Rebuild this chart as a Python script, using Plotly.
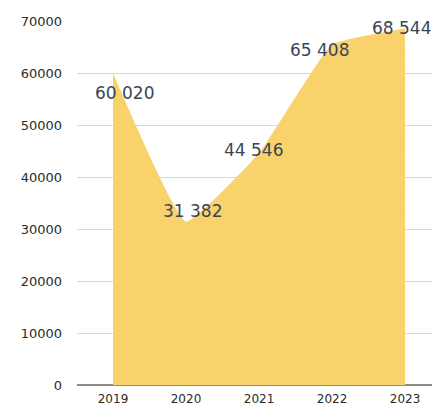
import plotly.graph_objects as go

years = [2019, 2020, 2021, 2022, 2023]
values = [60020, 31382, 44546, 65408, 68544]
labels = ["60 020", "31 382", "44 546", "65 408", "68 544"]
y_ticks = [0, 10000, 20000, 30000, 40000, 50000, 60000, 70000]

# label offsets (pixels) relative to each data point
label_shifts = [(12, 20), (6, -11), (-6, -3), (-13, 5), (-4, -1)]

fig = go.Figure()
fig.add_trace(go.Scatter(
    x=years, y=values, mode="lines", fill="tozeroy",
    line=dict(color="#F9D26C", width=0, shape="spline", smoothing=0.35),
    fillcolor="#F9D26C", hoverinfo="skip", showlegend=False,
))

for x, y, t, (dx, dy) in zip(years, values, labels, label_shifts):
    fig.add_annotation(x=x, y=y, text=t, showarrow=False, xshift=dx, yshift=-dy,
                       font=dict(family="DejaVu Sans", size=17, color="#3A4658"))

fig.update_layout(
    width=432, height=399,
    margin=dict(l=69, r=0, t=13, b=22),
    paper_bgcolor="white", plot_bgcolor="white",
    font=dict(family="DejaVu Sans", color="#2B2B2B"),
    xaxis=dict(range=[2018.507, 2023.479], tickvals=years, ticktext=[str(y) for y in years],
               showgrid=False, zeroline=False, showline=False, ticks="",
               ticklabelstandoff=5,
               tickfont=dict(size=12, color="#2B2B2B"), fixedrange=True),
    yaxis=dict(range=[0, 70000], tickvals=y_ticks, ticktext=[str(v) for v in y_ticks],
               showgrid=True, gridcolor="#D6D6D6", gridwidth=1,
               zeroline=True, zerolinecolor="#8A8A8A", zerolinewidth=1.5,
               showline=False, ticks="", ticklabelstandoff=14,
               tickfont=dict(size=13, color="#2B2B2B"), layer="below traces"),
)
fig.write_html("out.html")
